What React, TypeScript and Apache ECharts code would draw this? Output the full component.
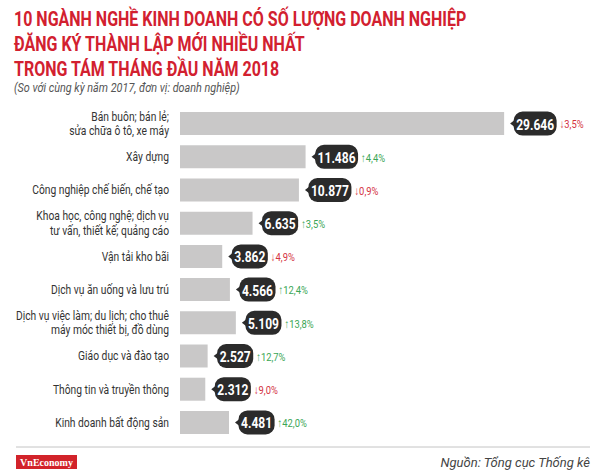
import React, { useEffect, useRef } from "react";
import * as echarts from "echarts";

const categories = [
  "Bán buôn; bán lẻ;\nsửa chữa ô tô, xe máy",
  "Xây dựng",
  "Công nghiệp chế biến, chế tạo",
  "Khoa học, công nghệ; dịch vụ\ntư vấn, thiết kế; quảng cáo",
  "Vận tải kho bãi",
  "Dịch vụ ăn uống và lưu trú",
  "Dịch vụ việc làm; du lịch; cho thuê\nmáy móc thiết bị, đồ dùng",
  "Giáo dục và đào tạo",
  "Thông tin và truyền thông",
  "Kinh doanh bất động sản",
];
const values = [29646, 11486, 10877, 6635, 3862, 4566, 5109, 2527, 2312, 4481];
const valueLabels = ["29.646", "11.486", "10.877", "6.635", "3.862", "4.566", "5.109", "2.527", "2.312", "4.481"];
const changes = [-3.5, 4.4, -0.9, 3.5, -4.9, 12.4, 13.8, 12.7, -9.0, 42.0];
const changeLabels = ["3,5%", "4,4%", "0,9%", "3,5%", "4,9%", "12,4%", "13,8%", "12,7%", "9,0%", "42,0%"];

const titleLines = [
  "10 NGÀNH NGHỀ KINH DOANH CÓ SỐ LƯỢNG DOANH NGHIỆP",
  "ĐĂNG KÝ THÀNH LẬP MỚI NHIỀU NHẤT",
  "TRONG TÁM THÁNG ĐẦU NĂM 2018",
];
const subtitle = "(So với cùng kỳ năm 2017, đơn vị: doanh nghiệp)";
const source = "Nguồn: Tổng cục Thống kê";

const FONT = "Roboto, 'Noto Sans', sans-serif";

let mctx: CanvasRenderingContext2D | null = null;
function measure(text: string, font: string): number {
  if (!mctx) mctx = document.createElement("canvas").getContext("2d");
  if (!mctx) return text.length * 7;
  mctx.font = font;
  return mctx.measureText(text).width;
}

export default function App() {
  const ref = useRef<HTMLDivElement>(null);
  useEffect(() => {
    if (!ref.current) return;
    const chart = echarts.init(ref.current, null, { renderer: "svg" });

    const titleScale = 453 / measure(titleLines[0], `bold 21px ${FONT}`);
    const subScale = 226 / measure(subtitle, `italic 13px ${FONT}`);
    const catScale = 137 / measure("Công nghiệp chế biến, chế tạo", `12.5px ${FONT}`);
    const valScale = 38 / measure("29.646", `bold 15.5px ${FONT}`);
    const pctScale = 24 / measure("↓3,5%", `11.5px ${FONT}`);
    const srcScale = 150 / measure(source, `italic 13px ${FONT}`);

    const option: any = {
      animation: false,
      backgroundColor: "#ffffff",
      grid: { left: 180, width: 410, top: 107, height: 332 },
      xAxis: { type: "value", min: 0, max: 37500, show: false },
      yAxis: { type: "category", data: categories, inverse: true, show: false },
      graphic: [
        ...titleLines.map((t, i) => ({
          type: "text",
          x: 14,
          y: 19.5 + i * 25,
          scaleX: titleScale,
          style: { text: t, fill: "#d2202f", fontSize: 21, fontWeight: "bold", fontFamily: FONT, verticalAlign: "middle", align: "left" },
        })),
        {
          type: "text",
          x: 14,
          y: 88,
          scaleX: subScale,
          style: { text: subtitle, fill: "#555555", fontSize: 13, fontStyle: "italic", fontFamily: FONT, verticalAlign: "middle", align: "left" },
        },
        { type: "line", shape: { x1: 16, y1: 447, x2: 590, y2: 447 }, style: { stroke: "#c4c4c4", lineWidth: 1 } },
        { type: "rect", shape: { x: 16, y: 455, width: 61, height: 14 }, style: { fill: "#d2232a" } },
        {
          type: "text",
          x: 46.5,
          y: 462,
          style: { text: "VnEconomy", fill: "#ffffff", fontSize: 10, fontWeight: "bold", fontFamily: "'Liberation Serif', serif", align: "center", verticalAlign: "middle" },
        },
        {
          type: "text",
          x: 590,
          y: 462,
          scaleX: srcScale,
          style: { text: source, fill: "#444444", fontSize: 13, fontStyle: "italic", fontFamily: FONT, align: "right", verticalAlign: "middle" },
        },
      ],
      series: [
        {
          type: "bar",
          data: values,
          barWidth: 23,
          itemStyle: { color: "#c9c8c8" },
          silent: true,
        },
        {
          type: "custom",
          clip: false,
          silent: true,
          data: values.map((v, i) => [v, i]),
          renderItem: (params: any, api: any) => {
            const i = params.dataIndex;
            const val = api.value(0);
            const cat = api.value(1);
            const [x, y] = api.coord([val, cat]);
            const x0 = api.coord([0, cat])[0];
            const vText = valueLabels[i];
            const tw = measure(vText, `bold 15.5px ${FONT}`) * valScale;
            const tip = x + 6;
            const rx = x + 9.5;
            const rw = tw + 5;
            const h = 24;
            const up = changes[i] >= 0;
            const lines = categories[i].split("\n");
            const children: any[] = [
              {
                type: "polygon",
                shape: { points: [[tip, y], [rx + 3, y - 5], [rx + 3, y + 5]] },
                style: { fill: "#2b2b2b" },
              },
              {
                type: "rect",
                shape: { x: rx, y: y - h / 2, width: rw, height: h, r: 9 },
                style: { fill: "#2b2b2b" },
              },
              {
                type: "text",
                x: rx + rw / 2,
                y: y + 0.5,
                scaleX: valScale,
                style: { text: vText, fill: "#ffffff", fontSize: 15.5, fontWeight: "bold", fontFamily: FONT, align: "center", verticalAlign: "middle" },
              },
              {
                type: "text",
                x: rx + rw + 3,
                y: y + 1,
                scaleX: pctScale,
                style: {
                  text: (up ? "↑" : "↓") + changeLabels[i],
                  fill: up ? "#3aa655" : "#d4323f",
                  fontSize: 11.5,
                  fontFamily: FONT,
                  align: "left",
                  verticalAlign: "middle",
                },
              },
            ];
            lines.forEach((ln: string, k: number) => {
              const ly = y + (k - (lines.length - 1) / 2) * 14.5;
              children.push({
                type: "text",
                x: x0 - 11,
                y: ly,
                scaleX: catScale,
                style: { text: ln, fill: "#333333", fontSize: 12.5, fontFamily: FONT, align: "right", verticalAlign: "middle" },
              });
            });
            return { type: "group", children };
          },
        },
      ],
    };
    chart.setOption(option);
    return () => chart.dispose();
  }, []);
  return <div ref={ref} style={{ position: "fixed", left: 0, top: 0, width: 600, height: 474, background: "#fff" }} />;
}
